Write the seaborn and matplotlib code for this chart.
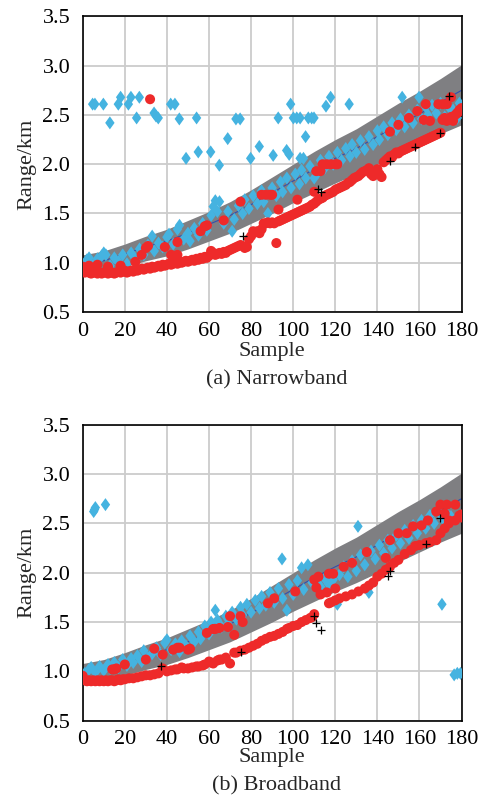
import matplotlib
matplotlib.use("Agg")
import matplotlib.pyplot as plt
import seaborn as sns
import pandas as pd
from matplotlib.path import Path
from matplotlib.ticker import FormatStrFormatter

# ---------------- data ----------------
band_x = [0, 10, 20, 30, 40, 50, 60, 70, 80, 90, 100, 110, 120, 130, 140, 150, 160, 170, 180]
band_center = [0.98, 1.02, 1.09, 1.16, 1.22, 1.30, 1.39, 1.48, 1.59, 1.71, 1.83, 1.95, 2.06, 2.16, 2.28, 2.40, 2.51, 2.63, 2.75]
band_upper = [1.08, 1.12, 1.19, 1.27, 1.34, 1.43, 1.52, 1.62, 1.74, 1.87, 2.00, 2.13, 2.25, 2.36, 2.49, 2.62, 2.74, 2.87, 3.01]
band_lower = [0.87, 0.90, 0.96, 1.02, 1.07, 1.14, 1.22, 1.30, 1.40, 1.50, 1.61, 1.71, 1.81, 1.90, 2.00, 2.11, 2.21, 2.31, 2.40]

# (a) Narrowband
a_blue_x = [4.7, 5.8, 9.8, 12.9, 16.9, 18.0, 21.7, 22.9, 25.6, 26.9, 33.9, 34.8, 35.9, 41.8, 43.8, 45.9,
            49.1, 54.1, 54.9, 60.8, 64.9, 68.9, 72.8, 74.8, 79.8, 83.9, 90.5, 92.9, 96.9, 98.1, 98.8, 100.1,
            101.7, 103.3, 103.3, 104.9, 105.9, 107.2, 108.8, 109.9, 115.6, 117.8, 126.6, 151.8, 159.8,
            1, 2, 3, 5, 7, 9, 10, 11, 13, 15, 17, 19, 21, 23, 25, 27, 29, 31, 33, 34, 36, 38, 40, 41,
            43, 45, 46, 48, 50, 51, 53, 55, 57, 59, 61, 62, 63, 64, 65, 67, 69, 71, 72, 74, 76, 77, 79,
            81, 83, 85, 86, 88, 90, 92, 94, 95, 97, 99, 101, 103, 104, 106, 108, 110, 112, 113, 115,
            117, 119, 121, 123, 125, 127, 128, 130, 132, 134, 136, 138, 140, 141, 143, 145, 147, 149,
            151, 153, 155, 157, 159, 161, 163, 164, 166, 168, 170, 172, 174, 176, 178, 179]
a_blue_y = [2.61, 2.61, 2.61, 2.42, 2.61, 2.68, 2.61, 2.68, 2.47, 2.68, 2.52, 2.49, 2.47, 2.61, 2.61, 2.46,
            2.06, 2.47, 2.125, 2.125, 1.99, 2.26, 2.46, 2.46, 2.06, 2.18, 2.09, 2.47, 2.14, 2.10, 2.61, 2.47,
            2.47, 2.47, 2.06, 2.06, 2.28, 2.47, 2.47, 2.47, 2.59, 2.68, 2.61, 2.68, 2.68,
            0.99, 1.03, 1.05, 0.98, 1.04, 1.07, 1.10, 1.08, 0.97, 1.05, 1.01, 1.08, 0.99, 1.10, 1.04,
            1.14, 1.08, 1.18, 1.27, 1.12, 1.20, 1.16, 1.26, 1.29, 1.19, 1.34, 1.38, 1.24, 1.30, 1.22,
            1.35, 1.28, 1.40, 1.33, 1.48, 1.57, 1.63, 1.52, 1.62, 1.40, 1.52, 1.32, 1.44, 1.58, 1.50,
            1.64, 1.55, 1.68, 1.60, 1.73, 1.62, 1.50, 1.76, 1.68, 1.82, 1.72, 1.86, 1.76, 1.90, 1.80,
            1.94, 1.86, 1.98, 1.86, 1.92, 2.04, 1.96, 2.08, 2.00, 2.12, 2.04, 2.16, 2.08, 2.20, 2.12,
            2.24, 2.15, 2.28, 2.20, 2.34, 2.25, 2.38, 2.30, 2.42, 2.35, 2.46, 2.38, 2.50, 2.42, 2.55,
            2.46, 2.58, 2.50, 2.60, 2.52, 2.62, 2.48, 2.58, 2.55, 2.47, 2.62]

a_red_x = [0, 3, 7, 12, 18, 25, 28, 30, 31, 32, 39, 42, 45, 45, 56, 58, 59, 67, 75, 85, 87, 89, 90,
           93, 102, 110, 111, 113, 114, 116, 118, 120, 121, 146, 150, 155, 159, 163, 162, 165, 169, 171,
           173, 175, 178, 180,
           0, 1, 2, 3, 4, 5, 6, 7, 8, 9, 10, 11, 12, 13, 14, 15, 16, 17, 18, 19, 20, 21, 22, 23, 24, 25,
           26, 27, 28, 29, 30, 31, 32, 33, 34, 35, 36, 37, 38, 39, 40, 41, 42, 43, 44, 45, 46, 47, 48, 49,
           50, 51, 52, 53, 54, 55, 56, 57, 58, 59, 60, 61, 62, 63, 64, 65, 66, 67, 68, 69, 70, 71, 72, 73,
           74, 75, 76, 77, 78, 79, 80, 81, 82, 83, 84, 85, 86, 87, 88, 89, 90, 91, 92, 93, 94, 95, 96, 97,
           98, 99, 100, 101, 102, 103, 104, 105, 106, 107, 108, 109, 110, 111, 112, 113, 114, 115, 116,
           117, 118, 119, 120, 121, 122, 123, 124, 125, 126, 127, 128, 129, 130, 131, 132, 133, 134, 135,
           136, 137, 138, 139, 140, 141, 142, 143, 144, 145, 146, 147, 148, 149, 150, 151, 152, 153, 154,
           155, 156, 157, 158, 159, 160, 161, 162, 163, 164, 165, 166, 167, 168, 169, 170, 171, 172, 173,
           174, 175, 176, 177, 178, 179, 180]
a_red_y = [0.96, 0.97, 0.98, 0.96, 0.97, 1.01, 1.08, 1.15, 1.17, 2.66, 1.16, 1.08, 1.08, 1.21, 1.32, 1.37,
           1.38, 1.43, 1.62, 1.69, 1.69, 1.69, 1.69, 1.54, 1.64, 1.72, 1.93, 1.93, 2.00, 2.00, 2.00, 2.00,
           2.00, 2.33, 2.40, 2.47, 2.54, 2.61, 2.45, 2.44, 2.61, 2.61, 2.61, 2.68, 2.52, 2.55,
           0.92, 0.90, 0.91, 0.90, 0.89, 0.90, 0.91, 0.89, 0.90, 0.89, 0.90, 0.91, 0.89, 0.90, 0.90, 0.89,
           0.90, 0.91, 0.90, 0.91, 0.92, 0.90, 0.91, 0.92, 0.91, 0.93, 0.92, 0.93, 0.94, 0.93, 0.94, 0.95,
           0.94, 0.96, 0.95, 0.96, 0.97, 0.96, 0.98, 0.97, 0.98, 0.99, 0.98, 0.99, 1.00, 0.99, 1.01, 1.00,
           1.01, 1.02, 1.01, 1.02, 1.03, 1.02, 1.04, 1.03, 1.05, 1.04, 1.06, 1.05, 1.07, 1.12, 1.10, 1.08,
           1.09, 1.10, 1.09, 1.11, 1.10, 1.12, 1.13, 1.14, 1.15, 1.16, 1.17, 1.18, 1.17, 1.15, 1.16, 1.24,
           1.27, 1.32, 1.31, 1.32, 1.30, 1.34, 1.40, 1.40, 1.41, 1.40, 1.41, 1.40, 1.20, 1.42, 1.43, 1.44,
           1.45, 1.46, 1.47, 1.48, 1.49, 1.50, 1.51, 1.52, 1.53, 1.54, 1.55, 1.56, 1.57, 1.59, 1.60, 1.62,
           1.64, 1.65, 1.66, 1.68, 1.69, 1.70, 1.71, 1.72, 1.74, 1.75, 1.76, 1.77, 1.78, 1.79, 1.81, 1.82,
           1.84, 1.86, 1.87, 1.88, 1.90, 1.92, 1.93, 1.94, 1.96, 1.90, 1.88, 1.92, 1.95, 1.90, 1.87, 2.02,
           2.04, 2.06, 2.08, 2.07, 2.10, 2.12, 2.11, 2.13, 2.14, 2.15, 2.16, 2.17, 2.18, 2.19, 2.20, 2.21,
           2.22, 2.23, 2.24, 2.25, 2.26, 2.27, 2.28, 2.29, 2.30, 2.31, 2.32, 2.45, 2.47, 2.44, 2.46, 2.48,
           2.44, 2.50, 2.52, 2.55, 2.57]

a_plus_x = [76, 112, 113, 146, 158, 170, 174]
a_plus_y = [1.27, 1.75, 1.72, 2.03, 2.17, 2.32, 2.69]

# (b) Broadband
b_blue_x = [5.2, 5.6, 6.0, 10.8, 130.8, 94.7, 170.7, 176.5, 178.0, 179.5,
            1, 3, 4, 6, 8, 10, 12, 13, 15, 17, 19, 21, 23, 24, 26, 28, 29, 31, 33, 35, 37, 39, 40, 42,
            44, 46, 47, 49, 51, 53, 55, 56, 58, 60, 61, 63, 64, 66, 68, 69, 71, 73, 75, 76, 78, 80, 82,
            84, 85, 87, 89, 91, 93, 95, 97, 98, 100, 102, 104, 105, 107, 109, 111, 113, 115, 117, 119,
            121, 122, 124, 126, 128, 130, 132, 134, 136, 137, 139, 141, 143, 145, 147, 149, 151, 153,
            155, 157, 159, 161, 163, 165, 167, 169, 171, 173, 175]
b_blue_y = [2.62, 2.64, 2.66, 2.69, 2.47, 2.14, 1.68, 0.965, 0.98, 0.98,
            0.98, 1.02, 1.04, 0.99, 1.05, 1.01, 1.07, 1.03, 1.09, 1.04, 1.12, 1.06, 1.13, 1.09, 1.16,
            1.10, 1.21, 1.14, 1.18, 1.24, 1.17, 1.29, 1.32, 1.22, 1.28, 1.20, 1.31, 1.26, 1.36, 1.30,
            1.40, 1.33, 1.46, 1.38, 1.50, 1.62, 1.52, 1.45, 1.56, 1.48, 1.60, 1.53, 1.65, 1.57, 1.68,
            1.60, 1.72, 1.64, 1.76, 1.67, 1.80, 1.70, 1.84, 1.74, 1.62, 1.88, 1.78, 1.92, 2.05, 1.83,
            2.08, 1.90, 1.93, 1.86, 1.94, 1.88, 1.93, 1.68, 1.98, 2.06, 1.96, 2.12, 2.02, 2.18, 2.08,
            1.80, 2.22, 2.14, 2.28, 2.20, 2.33, 2.25, 2.38, 2.30, 2.43, 2.35, 2.48, 2.40, 2.53, 2.45,
            2.58, 2.50, 2.62, 2.55, 2.60, 2.57]

b_red_x = [0, 14, 15, 16, 20, 30, 34, 38, 43, 45, 46, 50, 51, 59, 62, 63, 65, 69, 70, 72, 75, 76, 88,
           91, 101, 110, 112, 117, 119, 111, 113, 116, 120, 124, 128, 135, 144, 146, 150, 154, 157, 161,
           164, 168, 170, 173, 177, 172, 174, 179, 180,
           0, 1, 2, 3, 4, 5, 6, 7, 8, 9, 10, 11, 12, 13, 14, 15, 16, 17, 18, 19, 20, 22, 24, 26, 28, 30,
           32, 34, 36, 38, 40, 42, 44, 45, 47, 48, 50, 52, 54, 55, 57, 58, 60, 61, 62, 64, 65, 66, 68,
           70, 72, 73, 75, 77, 79, 81, 83, 85, 87, 89, 91, 93, 95, 97, 98, 100, 102, 104, 106, 108, 109,
           110, 117, 118, 120, 122, 125, 128, 131, 134, 136, 138, 140, 142, 144, 146, 148, 150, 153, 156,
           158, 160, 163, 165, 168, 170, 172, 174, 177, 180]
b_red_y = [0.955, 1.02, 1.02, 1.03, 1.07, 1.12, 1.23, 1.17, 1.22, 1.24, 1.24, 1.22, 1.23, 1.39, 1.43,
           1.43, 1.44, 1.45, 1.56, 1.37, 1.56, 1.50, 1.69, 1.74, 1.81, 1.93, 1.96, 1.99, 1.99, 1.85, 1.78,
           1.80, 1.84, 2.06, 2.10, 2.21, 2.15, 2.33, 2.40, 2.40, 2.47, 2.48, 2.53, 2.62, 2.69, 2.69, 2.69,
           2.60, 2.53, 2.58, 2.59,
           0.93, 0.91, 0.90, 0.91, 0.90, 0.91, 0.90, 0.91, 0.90, 0.91, 0.90, 0.91, 0.90, 0.91, 0.91,
           0.90, 0.91, 0.92, 0.91, 0.92, 0.92, 0.93, 0.93, 0.94, 0.95, 0.96, 0.96, 0.97, 0.98, 1.03,
           1.00, 1.01, 1.02, 1.02, 1.04, 1.03, 1.03, 1.04, 1.05, 1.05, 1.06, 1.07, 1.10, 1.09, 1.08,
           1.11, 1.12, 1.12, 1.14, 1.08, 1.19, 1.19, 1.21, 1.22, 1.24, 1.26, 1.28, 1.31, 1.33, 1.35,
           1.36, 1.38, 1.40, 1.43, 1.44, 1.46, 1.47, 1.50, 1.52, 1.54, 1.55, 1.58, 1.69, 1.70, 1.72,
           1.74, 1.76, 1.78, 1.81, 1.84, 1.87, 1.90, 1.96, 1.99, 2.03, 2.06, 2.10, 2.13, 2.19, 2.23,
           2.27, 2.28, 2.30, 2.31, 2.33, 2.40, 2.45, 2.50, 2.53, 2.56]

b_plus_x = [37, 75, 110, 111, 113, 145, 146, 163, 170]
b_plus_y = [1.05, 1.20, 1.56, 1.49, 1.42, 1.97, 2.02, 2.29, 2.55]

x_ticks = [0, 20, 40, 60, 80, 100, 120, 140, 160, 180]
y_ticks = [0.5, 1.0, 1.5, 2.0, 2.5, 3.0, 3.5]
captions = ["(a) Narrowband", "(b) Broadband"]

# ---------------- style ----------------
sns.set_style("white")
plt.rcParams["font.family"] = ["Liberation Serif", "DejaVu Serif"]

BLUE = "#45b3e0"
RED = "#ee2a2a"
GRAY = "#7f7f82"
LINE = "#2f4fb0"
FS = 16

# diamond a little taller than wide
DIAMOND = Path([(0, 1), (0.72, 0), (0, -1), (-0.72, 0), (0, 1)],
               [Path.MOVETO, Path.LINETO, Path.LINETO, Path.LINETO, Path.CLOSEPOLY])

fig = plt.figure(figsize=(4.81, 8.0), dpi=100)
ax_a = fig.add_axes([0.172, 0.610, 0.7875, 0.3694])
ax_b = fig.add_axes([0.172, 0.0991, 0.7875, 0.3700])

band_df = pd.DataFrame({"x": band_x, "c": band_center, "u": band_upper, "l": band_lower})

panels = [
    (ax_a, a_blue_x, a_blue_y, a_red_x, a_red_y, a_plus_x, a_plus_y, captions[0], 1 - 380 / 800, 1),
    (ax_b, b_blue_x, b_blue_y, b_red_x, b_red_y, b_plus_x, b_plus_y, captions[1], 1 - 786 / 800, -1),
]

for ax, bx, by, rx, ry, px, py, cap, capy, lpad in panels:
    ax.fill_between(band_df["x"], band_df["l"], band_df["u"], color=GRAY, lw=0, zorder=1)
    sns.lineplot(data=band_df, x="x", y="c", ax=ax, color=LINE, lw=0.8, zorder=2)
    sns.scatterplot(x=bx, y=by, ax=ax, marker=DIAMOND, s=88, color=BLUE, edgecolor="none",
                    linewidth=0, zorder=3)
    sns.scatterplot(x=rx, y=ry, ax=ax, marker="o", s=52, color=RED, edgecolor="none",
                    linewidth=0, zorder=4)
    sns.scatterplot(x=px, y=py, ax=ax, marker="+", s=32, color="black", linewidth=0.9, zorder=5)

    ax.set_xlim(0, 180)
    ax.set_ylim(0.5, 3.5)
    ax.set_xticks(x_ticks)
    ax.set_yticks(y_ticks)
    ax.yaxis.set_major_formatter(FormatStrFormatter("%.1f"))
    ax.grid(True, color="#cccccc", lw=1.3, zorder=0)
    ax.set_axisbelow(True)
    for sp in ax.spines.values():
        sp.set_color("black")
        sp.set_linewidth(1.2)
        sp.set_visible(True)
    ax.tick_params(axis="x", length=0, labelsize=FS, pad=7, colors="black")
    ax.tick_params(axis="y", length=0, labelsize=FS, pad=9, colors="black")
    ax.set_xlabel("Sample", fontsize=FS, labelpad=lpad)
    ax.set_ylabel("Range/km", fontsize=FS, labelpad=4)
    fig.text(0.575, capy, cap, ha="center", va="center", fontsize=FS)

fig.savefig("out.png", dpi=100)
